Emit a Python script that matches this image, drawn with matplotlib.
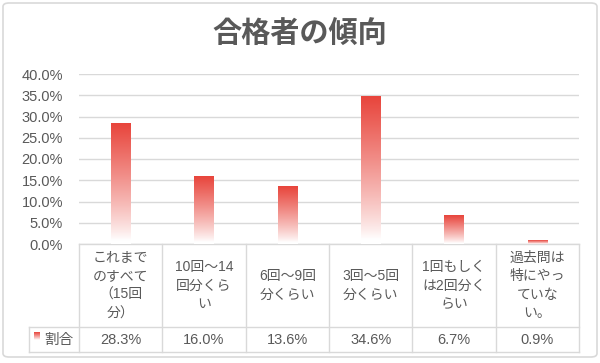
import numpy as np
import matplotlib
matplotlib.use("Agg")
import matplotlib.pyplot as plt
from matplotlib.colors import LinearSegmentedColormap
from matplotlib.patches import FancyBboxPatch

plt.rcParams['font.family'] = ['Liberation Sans', 'Noto Sans CJK JP', 'DejaVu Sans']

# data
title = "合格者の傾向"
categories = [
    ["これまで", "のすべて", "（15回", "分）"],
    ["10回～14", "回分くら", "い"],
    ["6回～9回", "分くらい"],
    ["3回～5回", "分くらい"],
    ["1回もしく", "は2回分く", "らい"],
    ["過去問は", "特にやっ", "ていな", "い。"],
]
values = [28.3, 16.0, 13.6, 34.6, 6.7, 0.9]
series_name = "割合"
yticks = [0, 5, 10, 15, 20, 25, 30, 35, 40]

text_color = "#595959"
line_color = "#d9d9d9"
red = "#E8453C"

fig = plt.figure(figsize=(6, 3.63), dpi=100)
ax = fig.add_axes([79 / 600, 119 / 363, 500 / 600, 170 / 363])

# gradient bars (red at top fading to white at bottom)
cmap = LinearSegmentedColormap.from_list("fade", ["#ffffff", red])
t = np.linspace(0, 1, 256)
s = np.clip((t - 0.03) / 0.97, 0, 1) ** 0.85
grad = s[::-1].reshape(-1, 1)
bar_w = 0.23
x = np.arange(len(values))
for xi, v in zip(x, values):
    ax.imshow(grad, cmap=cmap, vmin=0, vmax=1, aspect='auto',
              extent=[xi - bar_w / 2, xi + bar_w / 2, 0, v], zorder=3,
              interpolation='bilinear')

ax.set_xlim(-0.5, len(values) - 0.5)
ax.set_ylim(0, 40)
ax.set_yticks(yticks)
ax.set_yticklabels([f"{v:.1f}%" for v in yticks])
ax.tick_params(axis='y', length=0, pad=11.5, labelsize=10.5, labelcolor=text_color)
ax.set_xticks([])
ax.grid(axis='y', color=line_color, lw=1, zorder=0)
for sp in ax.spines.values():
    sp.set_visible(False)

# data table under the chart
tr = ax.get_xaxis_transform()
y_mid = -(327 - 244) / 170
y_bot = -(352 - 244) / 170
lkw = dict(color=line_color, lw=1, transform=tr, clip_on=False)
n = len(values)
ax.plot([-0.5, n - 0.5], [0, 0], **lkw)
ax.plot([-1.1, n - 0.5], [y_mid, y_mid], **lkw)
ax.plot([-1.1, n - 0.5], [y_bot, y_bot], **lkw)
for b in np.arange(n + 1) - 0.5:
    ax.plot([b, b], [0, y_bot], **lkw)
ax.plot([-1.1, -1.1], [y_mid, y_bot], **lkw)

for xi, lines, v in zip(x, categories, values):
    ax.text(xi, y_mid / 2, "\n".join(lines), transform=tr, ha='center',
            va='center', fontsize=10, color=text_color, linespacing=1.42)
    ax.text(xi, (y_mid + y_bot) / 2, f"{v:.1f}%", transform=tr, ha='center',
            va='center', fontsize=10.5, color=text_color)

# legend key in the table
ax.imshow(grad, cmap=cmap, vmin=0, vmax=1, aspect='auto',
          extent=[-1.04, -0.97, -22.6, -20.9], zorder=3, clip_on=False)
ax.text(-0.92, (y_mid + y_bot) / 2, series_name, transform=tr, ha='left',
        va='center', fontsize=10.5, color=text_color)
ax.set_xlim(-0.5, n - 0.5)
ax.set_ylim(0, 40)

fig.text(0.5, 328 / 363, title, ha='center', va='center', fontsize=21,
         fontweight='bold', color=text_color)

fig.patches.append(FancyBboxPatch((3 / 600, 6 / 363), 594 / 600, 354 / 363,
                                  boxstyle="round,pad=0,rounding_size=0.01",
                                  transform=fig.transFigure, fill=False,
                                  ec=line_color, lw=1.2))

fig.savefig("out.png", dpi=100)
